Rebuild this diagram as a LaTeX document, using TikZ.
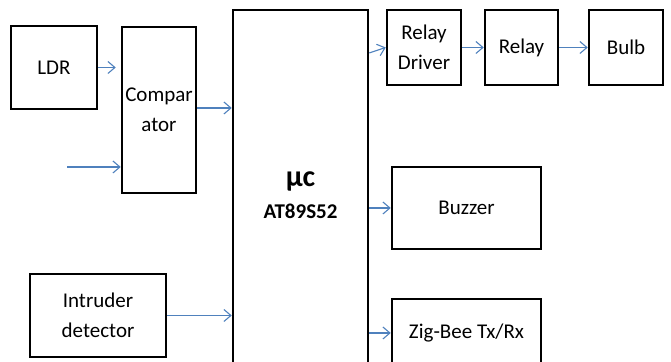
\documentclass[tikz,border=0pt]{standalone}
\usepackage{fontspec}
\setmainfont{Carlito}
\usetikzlibrary{arrows.meta,calc}

\begin{document}
\begin{tikzpicture}[x=.5pt,y=-.5pt,
  font=\fontsize{10.5}{15}\selectfont,
  blk/.style={draw,line width=1.25pt,align=center,inner sep=1pt},
  sig/.style={draw={rgb,255:red,79;green,129;blue,189},line width=.55pt,
    -{Straight Barb[length=3.5pt,width=6pt]}}]
 \useasboundingbox (0,0) rectangle (671,362);
 \clip (0,0) rectangle (671,362);
 \node[blk,minimum width=43pt,minimum height=41.5pt] (ldr) at (54,67.5) {LDR};
 \node[blk,minimum width=37pt,minimum height=83pt] (comp) at (159,110) {Compar\\ator};
 \node[blk,minimum width=67.5pt,minimum height=185pt] (uc) at (300.5,195)
   {{\fontsize{15}{17}\selectfont\bfseries µc}\\[1pt]{\bfseries AT89S52}};
 \node[blk,minimum width=37pt,minimum height=37.5pt] (drv) at (424,47.5) {Relay\\Driver};
 \node[blk,minimum width=36.5pt,minimum height=37.5pt] (rly) at (521.5,47.5) {Relay};
 \node[blk,minimum width=37pt,minimum height=37.5pt] (bulb) at (626,47.5) {Bulb};
 \node[blk,minimum width=74.5pt,minimum height=41pt] (buz) at (466.5,208) {Buzzer};
 \node[blk,minimum width=74.5pt,minimum height=34pt] (zig) at (466.5,333) {Zig-Bee Tx/Rx};
 \node[blk,minimum width=68pt,minimum height=41.5pt] (intr) at (98,315.5) {Intruder\\detector};
 \coordinate (cin) at (67,167);
 \draw[sig,shorten >=2.5pt] (ldr.east) -- (ldr.east -| comp.west);
 \draw[sig] (cin) -- (cin -| comp.west);
 \draw[sig] ([yshift=1pt]comp.east) -- ([yshift=1pt]comp.east -| uc.west);
 \draw[sig] ([yshift=-2.75pt]uc.east |- drv.west) -- (drv.west);
 \draw[sig] (drv) -- (rly);
 \draw[sig] (rly) -- (bulb);
 \draw[sig] (buz.west -| uc.east) -- (buz.west);
 \draw[sig] (zig.west -| uc.east) -- (zig.west);
 \draw[sig] (intr.east) -- (intr.east -| uc.west);
\end{tikzpicture}
\end{document}
